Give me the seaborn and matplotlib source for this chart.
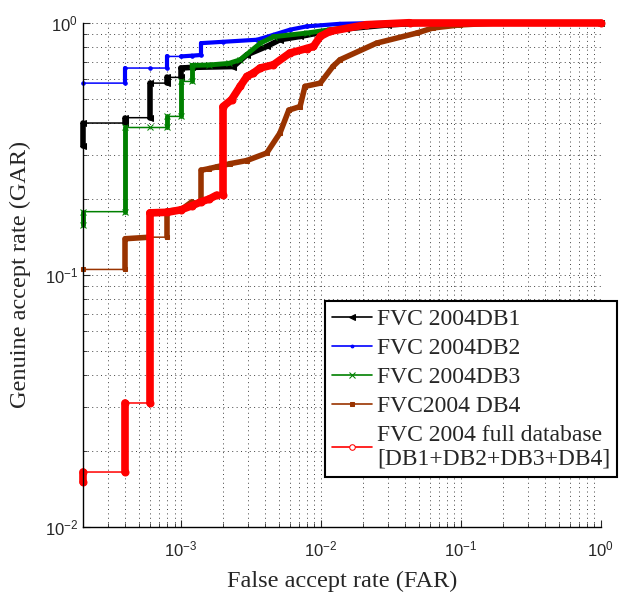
import numpy as np
import pandas as pd
import matplotlib
matplotlib.use('Agg')
import matplotlib.pyplot as plt
import seaborn as sb

# ROC points (FAR, GAR)
db1_far = [2e-4, 2e-4, 4e-4, 4e-4, 6e-4, 6e-4, 8e-4, 8e-4, 1e-3, 1e-3, 1.2e-3, 2.37e-3,
           2.96e-3, 4.1e-3, 5.1e-3, 7.1e-3, 1.0e-2, 1.5e-2, 3e-2, 6e-2, 1.0]
db1_gar = [0.323, 0.40, 0.40, 0.42, 0.42, 0.576, 0.576, 0.607, 0.607, 0.661, 0.665, 0.67,
           0.746, 0.805, 0.856, 0.882, 0.915, 0.945, 0.98, 1.0, 1.0]

db2_far = [2e-4, 4e-4, 4e-4, 6e-4, 8e-4, 8e-4, 1e-3, 1.2e-3, 1.4e-3, 1.4e-3, 2e-3, 3.5e-3,
           4.6e-3, 6e-3, 7.9e-3, 1.37e-2, 3e-2, 1.0]
db2_gar = [0.576, 0.576, 0.661, 0.661, 0.661, 0.735, 0.735, 0.74, 0.745, 0.83, 0.84, 0.856,
           0.896, 0.938, 0.967, 0.99, 1.0, 1.0]

db3_far = [2e-4, 2e-4, 4e-4, 4e-4, 6e-4, 8e-4, 8e-4, 1e-3, 1e-3, 1.2e-3, 1.2e-3, 1.6e-3,
           2.2e-3, 2.65e-3, 3.7e-3, 4.6e-3, 7.9e-3, 1.16e-2, 2e-2, 4e-2, 1.0]
db3_gar = [0.157, 0.178, 0.178, 0.384, 0.384, 0.384, 0.425, 0.425, 0.585, 0.585, 0.677, 0.68,
           0.69, 0.713, 0.83, 0.88, 0.91, 0.938, 0.97, 1.0, 1.0]

db4_far = [2e-4, 4e-4, 4e-4, 6e-4, 8e-4, 8e-4, 1e-3, 1.2e-3, 1.4e-3, 1.4e-3, 1.6e-3, 1.8e-3,
           2.25e-3, 2.96e-3, 4.1e-3, 5.1e-3, 5.9e-3, 7.1e-3, 7.7e-3, 9.9e-3, 1.22e-2, 1.37e-2,
           2.5e-2, 4.85e-2, 6.3e-2, 9.8e-2, 0.2, 1.0]
db4_gar = [0.105, 0.105, 0.139, 0.141, 0.141, 0.179, 0.181, 0.195, 0.195, 0.26, 0.264, 0.268,
           0.276, 0.284, 0.304, 0.365, 0.45, 0.465, 0.559, 0.576, 0.671, 0.713,
           0.83, 0.91, 0.953, 0.98, 1.0, 1.0]

full_far = [2e-4, 2e-4, 4e-4, 4e-4, 6e-4, 6e-4, 8e-4, 1e-3, 1.2e-3, 1.4e-3, 1.6e-3, 1.8e-3,
            2e-3, 2e-3, 2.3e-3, 2.65e-3, 2.96e-3, 3.3e-3, 3.68e-3, 4.58e-3, 6e-3, 7.9e-3,
            8.85e-3, 9.9e-3, 1.16e-2, 2.1e-2, 4.3e-2, 1.0]
full_gar = [0.015, 0.0165, 0.0165, 0.031, 0.031, 0.176, 0.177, 0.181, 0.188, 0.195, 0.2, 0.207,
            0.207, 0.465, 0.495, 0.559, 0.612, 0.632, 0.661, 0.681, 0.758, 0.79,
            0.805, 0.882, 0.924, 0.982, 1.0, 1.0]

labels = ['FVC 2004DB1', 'FVC 2004DB2', 'FVC 2004DB3', 'FVC2004 DB4',
          'FVC 2004 full database\n[DB1+DB2+DB3+DB4]']
colors = ['black', '#0000ff', '#008000', '#993300', '#ff0000']
markers = ['<', '.', 'x', 's', 'o']
msizes = [5, 5, 4, 3, 5]
thick_lw = [4, 3, 3.5, 4, 5.5]
series = [(db1_far, db1_gar), (db2_far, db2_gar), (db3_far, db3_gar),
          (db4_far, db4_gar), (full_far, full_gar)]

sb.set_style('white')
plt.rcParams['font.family'] = ['Liberation Sans', 'DejaVu Sans']
plt.rcParams['xtick.direction'] = 'in'
plt.rcParams['ytick.direction'] = 'in'

fig = plt.figure(figsize=(6.2, 5.98), dpi=100)
ax = fig.add_axes([0.134, 0.119, 0.835, 0.843])

for i, (far, gar) in enumerate(series):
    df = pd.DataFrame({'FAR': far, 'GAR': gar})
    sb.lineplot(data=df, x='FAR', y='GAR', estimator=None, sort=False, ax=ax,
                color=colors[i], marker=markers[i], markersize=msizes[i], lw=1.1,
                markeredgecolor=colors[i], label=labels[i], clip_on=False)
    # rising parts look thick in the original (stacked markers), flat steps stay thin
    for j in range(len(far) - 1):
        if gar[j] != gar[j + 1] or gar[j] >= 0.99:
            ax.plot(far[j:j + 2], gar[j:j + 2], color=colors[i], lw=thick_lw[i],
                    solid_capstyle='round', label='_nolegend_', clip_on=False)

ax.set_xscale('log')
ax.set_yscale('log')
ax.set_xlim(2e-4, 1)
ax.set_ylim(1e-2, 1)
ax.grid(True, which='both', ls=(0, (1, 3.5)), color='0.25', lw=0.7)
ax.tick_params(which='both', direction='in', bottom=True, left=True, labelsize=12)
ax.tick_params(axis='x', which='both', pad=9)
ax.tick_params(which='major', length=5)
ax.tick_params(which='minor', length=3)
for s in ['top', 'right']:
    ax.spines[s].set_visible(False)
for s in ['left', 'bottom']:
    ax.spines[s].set_color('black')
    ax.spines[s].set_linewidth(1)

ax.set_xlabel('False accept rate (FAR)', family='Liberation Serif', fontsize=17.5, labelpad=8)
ax.set_ylabel('Genuine accept rate (GAR)', family='Liberation Serif', fontsize=17.5, labelpad=10)

leg = ax.legend(loc='lower left', bbox_to_anchor=(0.467, 0.099), prop={'family': 'Liberation Serif', 'size': 17},
                frameon=True, fancybox=False, framealpha=1, edgecolor='black',
                handlelength=1.7, handletextpad=0.2, labelspacing=0.32, borderpad=0.3,
                borderaxespad=0)
leg.get_frame().set_linewidth(1.5)
for h in leg.legend_handles:
    h.set_linewidth(1.2)
    h.set_markersize(4)
leg.legend_handles[3].set_markersize(3)
leg.legend_handles[4].set_markerfacecolor('white')
leg.set_zorder(10)

plt.savefig('out.png', dpi=100)
